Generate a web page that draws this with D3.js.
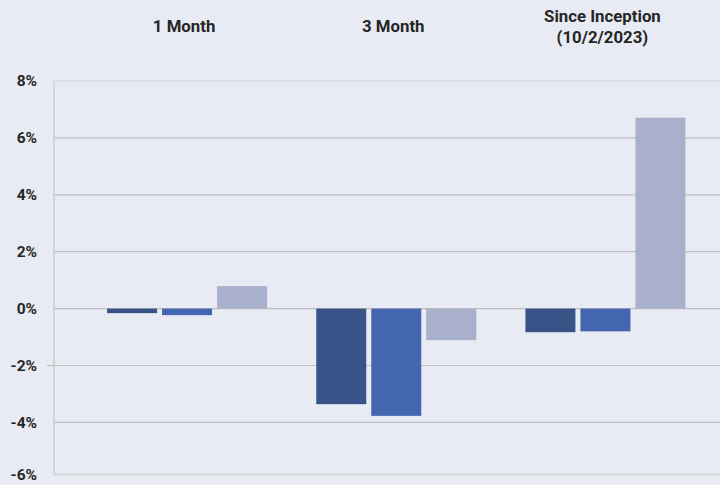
<!DOCTYPE html>
<html>
<head>
<meta charset="utf-8">
<script src="https://cdn.jsdelivr.net/npm/d3@7/dist/d3.min.js"></script>
<style>
  html, body { margin:0; padding:0; background:#e8ebf3; }
  svg { display:block; font-family: Roboto, "Liberation Sans", sans-serif; }
</style>
</head>
<body>
<svg id="chart"></svg>
<script>
var categories = [["1 Month"], ["3 Month"], ["Since Inception", "(10/2/2023)"]];
var seriesNames = ["A", "B", "C"];
var seriesA = [-0.16, -3.36, -0.83];
var seriesB = [-0.23, -3.77, -0.80];
var seriesC = [0.79, -1.11, 6.71];
var yTicks = [8, 6, 4, 2, 0, -2, -4, -6];
var colors = ["#375388", "#4466b0", "#a9b0cc"];

var width = 720, height = 485;
var svg = d3.select("#chart").attr("width", width).attr("height", height);

svg.append("rect").attr("width", width).attr("height", height).attr("fill", "#e8ebf3");

// chart's bottom band is a little squeezed, so the scale is piecewise
var yScale = d3.scaleLinear()
  .domain([-6, -4, 8])
  .range([474.5, 422.4, 81]);

var xScale = d3.scaleBand()
  .domain(d3.range(categories.length))
  .range([82.5, 710]);

var inner = d3.scaleBand()
  .domain(seriesNames)
  .range([-80, 80])
  .paddingInner(5 / 55);

var left = 54;

// gridlines
svg.append("g")
  .selectAll("line")
  .data(yTicks)
  .enter()
  .append("line")
  .attr("x1", left)
  .attr("x2", width)
  .attr("y1", function(d){ return yScale(d); })
  .attr("y2", function(d){ return yScale(d); })
  .attr("stroke", function(d){ return (d === 8 || d === -6) ? "#d0d0d0" : "#bfbfbf"; })
  .attr("stroke-width", function(d){ return d === -6 ? 1.5 : 1.2; });

// y labels
svg.append("g")
  .selectAll("text")
  .data(yTicks)
  .enter()
  .append("text")
  .attr("x", 37)
  .attr("y", function(d){ return yScale(d); })
  .attr("dy", "0.35em")
  .attr("text-anchor", "end")
  .attr("font-size", 15.5)
  .attr("font-weight", "bold")
  .attr("fill", "#262626")
  .text(function(d){ return d + "%"; });

// bars
var series = [seriesA, seriesB, seriesC];
var groups = svg.append("g")
  .selectAll("g")
  .data(categories)
  .enter()
  .append("g")
  .attr("transform", function(d, i){ return "translate(" + (xScale(i) + xScale.bandwidth() / 2) + ",0)"; });

groups.selectAll("rect")
  .data(function(d, i){
    return series.map(function(s, j){ return {name: seriesNames[j], value: s[i], color: colors[j]}; });
  })
  .enter()
  .append("rect")
  .attr("x", function(d){ return inner(d.name); })
  .attr("width", inner.bandwidth())
  .attr("y", function(d){ return yScale(Math.max(0, d.value)); })
  .attr("height", function(d){ return Math.abs(yScale(d.value) - yScale(0)); })
  .attr("fill", function(d){ return d.color; });

// y axis line
svg.append("line")
  .attr("x1", left).attr("x2", left)
  .attr("y1", yScale(8)).attr("y2", yScale(-6))
  .attr("stroke", "#cccccc")
  .attr("stroke-width", 1.5);

// small tick on -2%
svg.append("line")
  .attr("x1", left - 7).attr("x2", left)
  .attr("y1", yScale(-2)).attr("y2", yScale(-2))
  .attr("stroke", "#bfbfbf")
  .attr("stroke-width", 1.2);

// category labels on top
groups.each(function(d){
  var t = d3.select(this).append("text")
    .attr("text-anchor", "middle")
    .attr("font-size", 16.8)
    .attr("font-weight", "bold")
    .attr("fill", "#262626");
  var y0 = d.length > 1 ? 16 : 26;
  d.forEach(function(line, k){
    t.append("tspan")
      .attr("x", -3)
      .attr("y", y0 + k * 21)
      .attr("dy", "0.35em")
      .text(line);
  });
});
</script>
</body>
</html>
